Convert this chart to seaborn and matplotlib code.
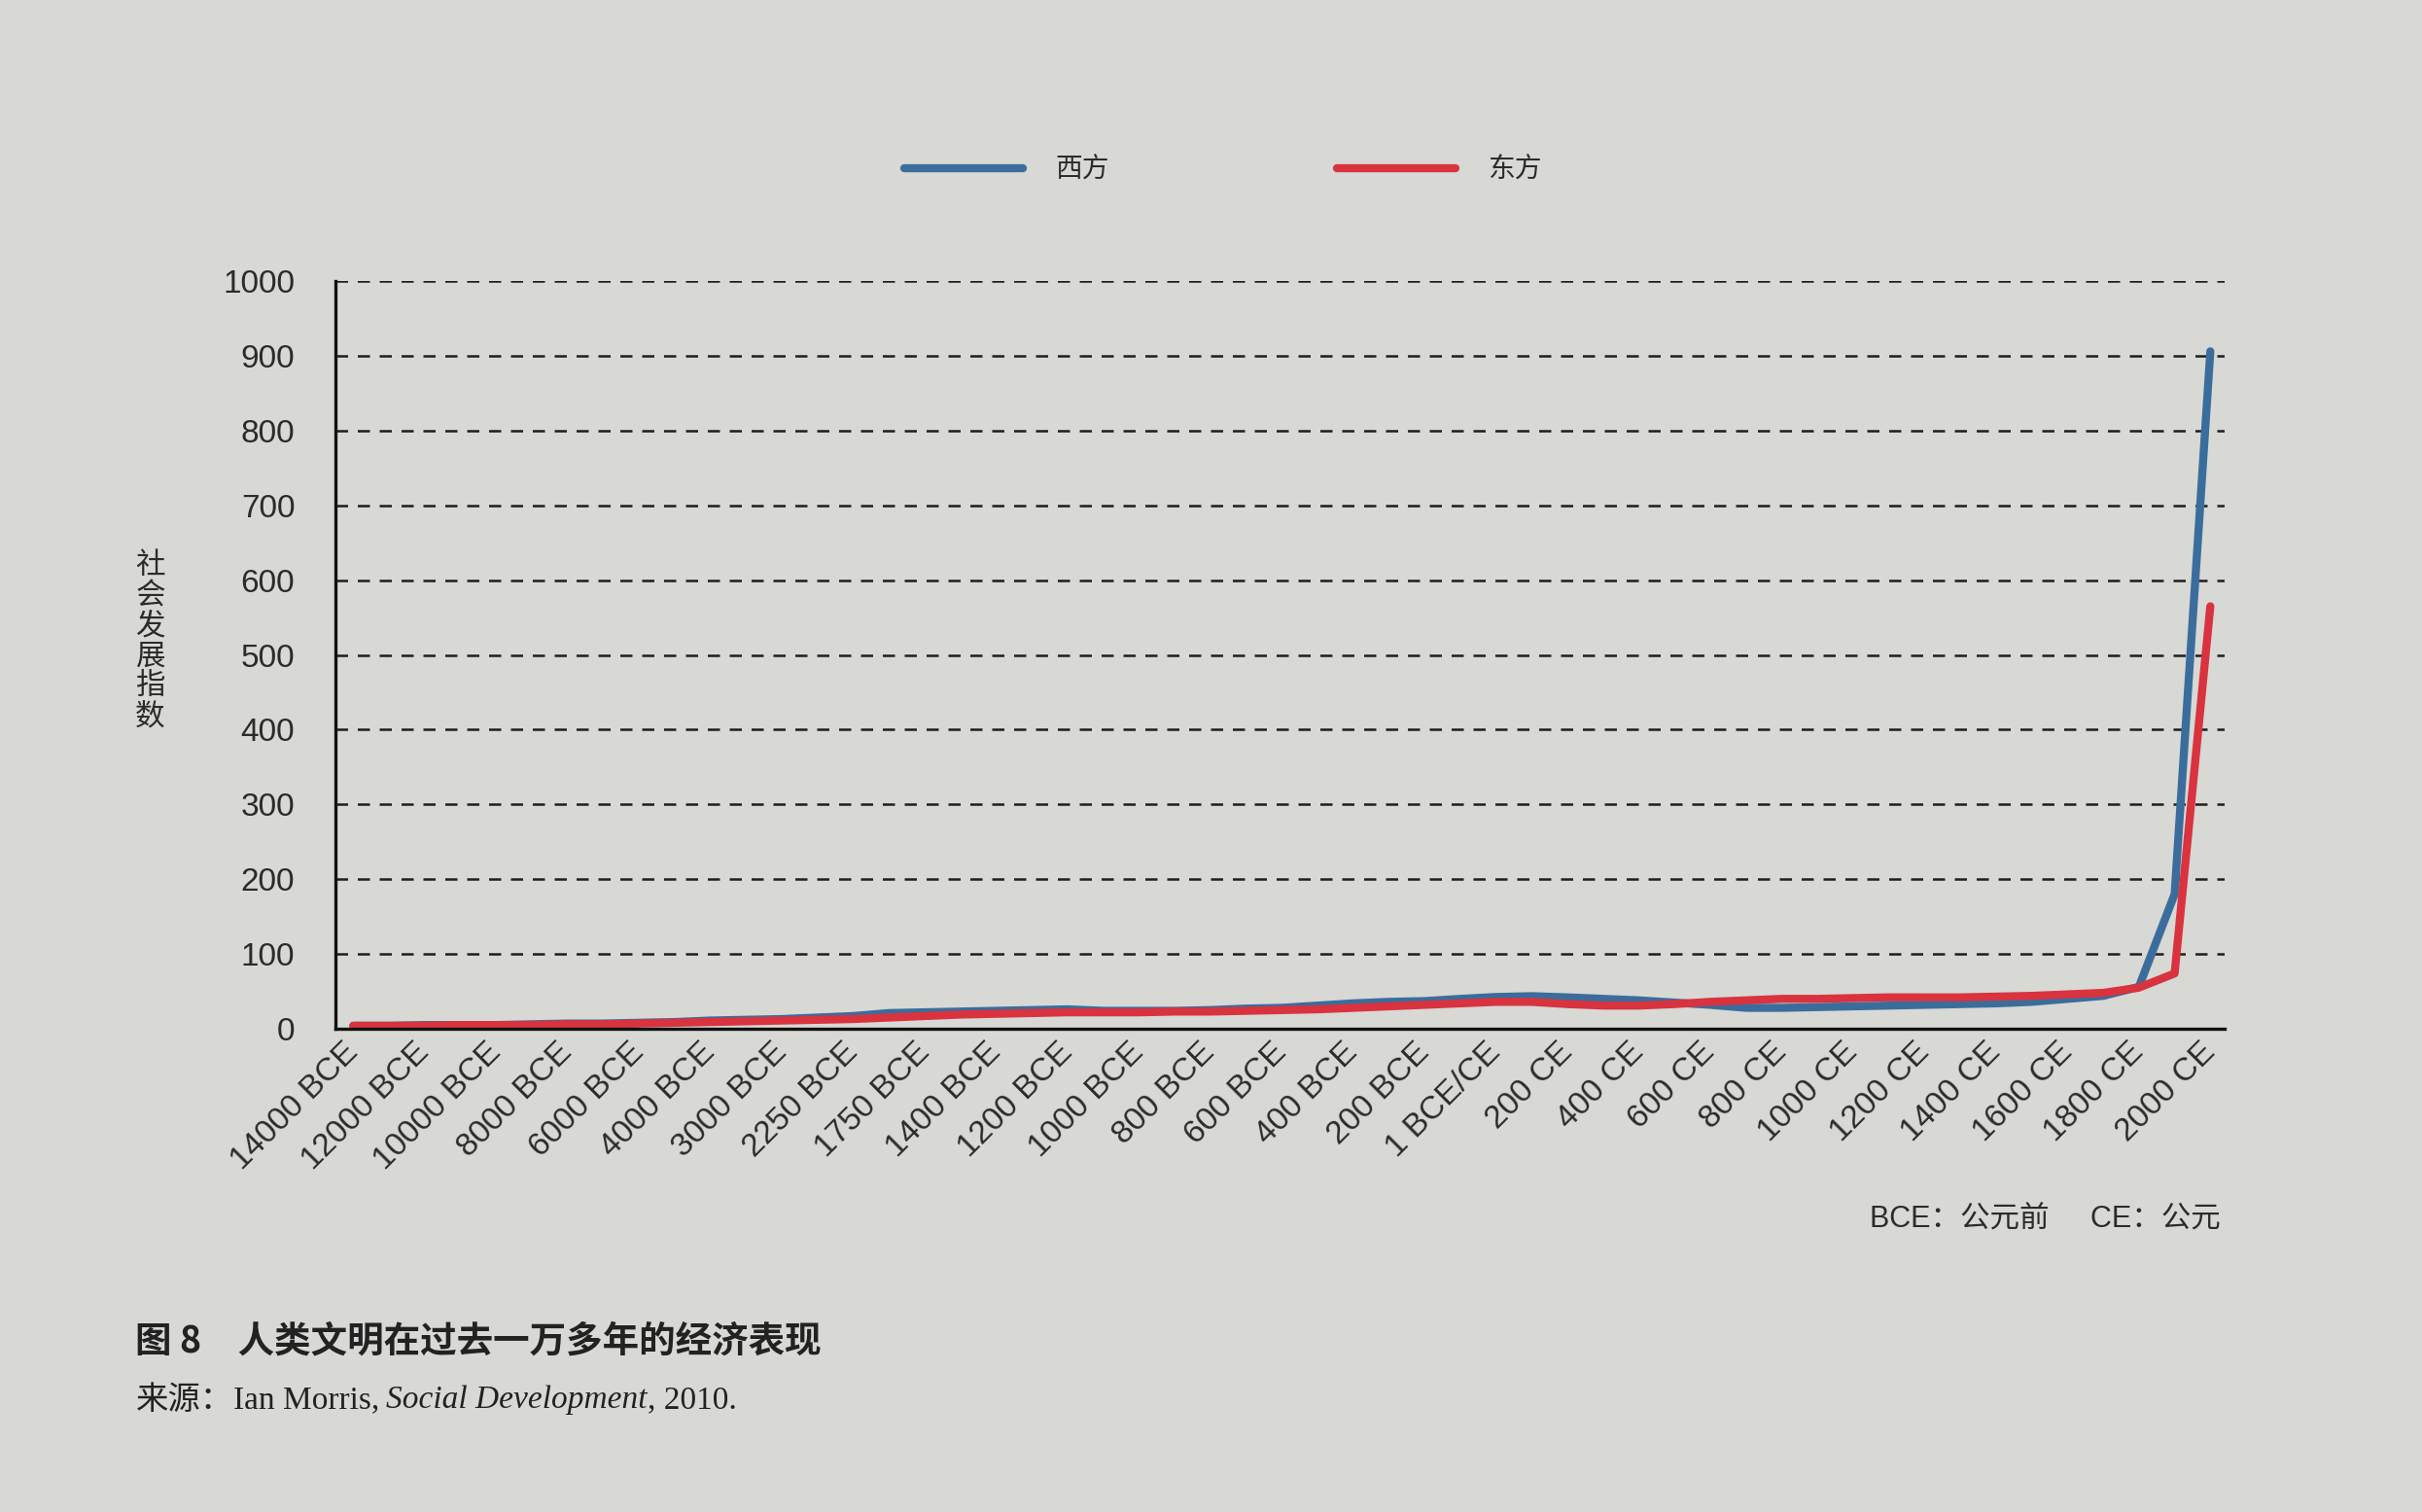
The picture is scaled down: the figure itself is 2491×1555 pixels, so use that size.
import numpy as np
import pandas as pd
import seaborn as sns
import matplotlib.pyplot as plt

# social development index (one point per period)
periods = ['14000 BCE', '13000 BCE', '12000 BCE', '11000 BCE', '10000 BCE', '9000 BCE',
           '8000 BCE', '7000 BCE', '6000 BCE', '5000 BCE', '4000 BCE', '3500 BCE',
           '3000 BCE', '2500 BCE', '2250 BCE', '2000 BCE', '1750 BCE', '1500 BCE',
           '1400 BCE', '1300 BCE', '1200 BCE', '1100 BCE', '1000 BCE', '900 BCE',
           '800 BCE', '700 BCE', '600 BCE', '500 BCE', '400 BCE', '300 BCE',
           '200 BCE', '100 BCE', '1 BCE/CE', '100 CE', '200 CE', '300 CE', '400 CE',
           '500 CE', '600 CE', '700 CE', '800 CE', '900 CE', '1000 CE', '1100 CE',
           '1200 CE', '1300 CE', '1400 CE', '1500 CE', '1600 CE', '1700 CE',
           '1800 CE', '1900 CE', '2000 CE']

west = [4, 4, 5, 5, 5, 6, 7, 7, 8, 9, 11, 12, 13, 15, 17, 21, 22, 23, 24, 25, 26,
        24, 24, 24, 25, 27, 28, 31, 34, 36, 37, 40, 42.5, 43.6, 42, 40, 38, 35,
        32, 28, 28, 29, 30, 31, 32, 33, 34, 36, 40, 44, 56, 180, 906]

east = [4, 4, 4, 5, 5, 5, 6, 6, 7, 8, 9, 10, 11, 12, 13, 15, 17, 19, 20, 21, 22,
        22, 22, 23, 23, 24, 25, 26, 28, 30, 32, 34, 36, 36, 33, 31, 31, 33, 36,
        38, 40, 40, 41, 42, 42, 42, 43, 44, 46, 48, 55, 74, 565]

series_names = ['西方', '东方']
y_ticks = list(range(0, 1001, 100))

bg = '#d8d8d5'
ink = '#2b2b2b'

sns.set_style('ticks')
plt.rcParams['font.family'] = ['Liberation Sans', 'Noto Sans CJK SC']
plt.rcParams['text.color'] = ink

df = pd.DataFrame({
    '时期': periods * 2,
    '指数': west + east,
    '地区': [series_names[0]] * len(periods) + [series_names[1]] * len(periods),
})

fig = plt.figure(figsize=(24.91, 15.55), dpi=100, facecolor=bg)
ax = fig.add_axes([0.1385, 0.3196, 0.78, 0.4945])
ax.set_facecolor(bg)

sns.lineplot(data=df, x='时期', y='指数', hue='地区', hue_order=series_names,
             palette={'西方': '#3b6d9c', '东方': '#d8333f'}, linewidth=6,
             sort=False, ax=ax)

# dashed horizontal grid
ax.set_axisbelow(True)
ax.yaxis.grid(True, color='#1e1e1e', linestyle=(0, (5, 4)), linewidth=1.8)
ax.xaxis.grid(False)

ax.set_ylim(0, 1000)
ax.set_yticks(y_ticks)
ax.set_yticklabels([str(v) for v in y_ticks], fontsize=24, color=ink)
ax.set_xlim(-0.5, len(periods) - 1 + 0.4)
ax.set_xticks(range(0, len(periods), 2))
ax.set_xticklabels(periods[::2], rotation=45, ha='right', va='center',
                   rotation_mode='anchor', fontsize=24, color=ink)
ax.tick_params(axis='both', length=0)
ax.tick_params(axis='y', pad=30)
ax.tick_params(axis='x', pad=14)
ax.set_xlabel('')
ax.set_ylabel('')

for side in ['top', 'right']:
    ax.spines[side].set_visible(False)
for side in ['left', 'bottom']:
    ax.spines[side].set_color('#111111')
    ax.spines[side].set_linewidth(2.4)

sns.move_legend(ax, 'center', bbox_to_anchor=(0.505, 0.887),
                bbox_transform=fig.transFigure, ncol=2, frameon=False, title=None,
                fontsize=20, handlelength=4.4, handletextpad=1.2, columnspacing=8.4)

# vertical y label, one character per line
fig.text(0.062, 0.576, '\n'.join('社会发展指数'), ha='center', va='center',
         fontsize=22, linespacing=1.0, family='Noto Sans CJK SC', color=ink)

fig.text(0.917, 0.193, 'BCE：公元前     CE：公元', ha='right', va='center',
         fontsize=22, color=ink)

fig.text(0.056, 0.113, '图 8\u3000人类文明在过去一万多年的经济表现', ha='left', va='center',
         fontsize=27, fontweight='bold', family='Noto Sans CJK SC', color='#222222')

# source line: mixed CJK / serif / italic pieces placed one after another
renderer = fig.canvas.get_renderer()
pieces = [
    ('来源：', dict(family='Noto Sans CJK SC'), 0.0),
    ('Ian Morris,', dict(family='Liberation Serif'), 0.0),
    ('Social Development', dict(family='Liberation Serif', style='italic'), 7),
    (', 2010.', dict(family='Liberation Serif'), 1),
]
x = 0.056
for text, kw, gap in pieces:
    x += gap / fig.bbox.width
    t = fig.text(x, 0.074, text, ha='left', va='center', fontsize=24, color='#222222', **kw)
    x += t.get_window_extent(renderer).width / fig.bbox.width

fig.savefig('out.png', dpi=100, facecolor=bg)
